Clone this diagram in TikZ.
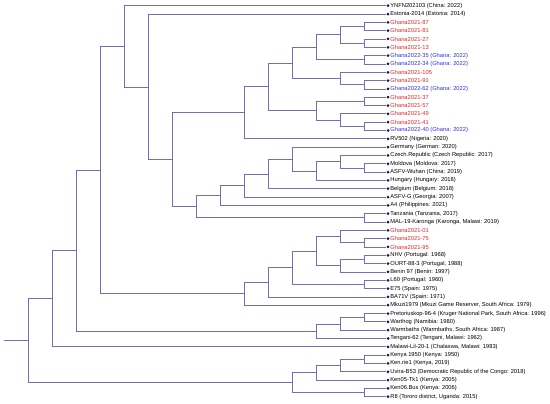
\documentclass[tikz,border=0pt]{standalone}
\usepackage{fontspec}
\setmainfont{Liberation Sans}
\definecolor{branch}{RGB}{112,112,182}
\definecolor{tipdot}{RGB}{20,20,72}
\definecolor{ghred}{RGB}{232,36,36}
\definecolor{ghblue}{RGB}{48,48,232}
\tikzset{
  tip/.style={circle,fill=tipdot,inner sep=0pt,minimum size=3pt},
  tiplabel/.style={anchor=west,inner sep=0pt,font=\fontsize{5.75}{6}\selectfont,text=black},
  redlab/.style={tiplabel,text=ghred},
  bluelab/.style={tiplabel,text=ghblue},
  br/.style={draw=branch,line width=0.75pt}
}
\newcommand\leaf[4]{%
  \node[tip] (l#1) at (16,#1) {};
  \node[#3] (t#1) at ([xshift=2.2pt]l#1.center) {#2};
}
\begin{document}
\begin{tikzpicture}
\useasboundingbox (0pt,0pt) rectangle (550pt,-404pt);
\begin{scope}[x=24pt,y=-8.32pt,shift={(4pt,2.62pt)}]
\leaf{1}{YNFN202103 (China: 2022)}{tiplabel}{}
\leaf{2}{Estonia-2014 (Estonia: 2014)}{tiplabel}{}
\leaf{3}{Ghana2021-87}{redlab}{}
\leaf{4}{Ghana2021-81}{redlab}{}
\leaf{5}{Ghana2021-27}{redlab}{}
\leaf{6}{Ghana2021-13}{redlab}{}
\leaf{7}{Ghana2022-35 (Ghana: 2022)}{bluelab}{}
\leaf{8}{Ghana2022-34 (Ghana: 2022)}{bluelab}{}
\leaf{9}{Ghana2021-105}{redlab}{}
\leaf{10}{Ghana2021-91}{redlab}{}
\leaf{11}{Ghana2022-62 (Ghana: 2022)}{bluelab}{}
\leaf{12}{Ghana2021-37}{redlab}{}
\leaf{13}{Ghana2021-57}{redlab}{}
\leaf{14}{Ghana2021-49}{redlab}{}
\leaf{15}{Ghana2021-41}{redlab}{}
\leaf{16}{Ghana2022-40 (Ghana: 2022)}{bluelab}{}
\leaf{17}{RV502 (Nigeria: 2020)}{tiplabel}{}
\leaf{18}{Germany (German: 2020)}{tiplabel}{}
\leaf{19}{Czech.Republic (Czech Republic: 2017)}{tiplabel}{}
\leaf{20}{Moldova (Moldova: 2017)}{tiplabel}{}
\leaf{21}{ASFV-Wuhan (China: 2019)}{tiplabel}{}
\leaf{22}{Hungary (Hungary: 2018)}{tiplabel}{}
\leaf{23}{Belgium (Belgium: 2018)}{tiplabel}{}
\leaf{24}{ASFV-G (Georgia: 2007)}{tiplabel}{}
\leaf{25}{A4 (Philippines: 2021)}{tiplabel}{}
\leaf{26}{Tanzania (Tanzania, 2017)}{tiplabel}{}
\leaf{27}{MAL-19-Karonga (Karonga, Malawi: 2019)}{tiplabel}{}
\leaf{28}{Ghana2021-01}{redlab}{}
\leaf{29}{Ghana2021-75}{redlab}{}
\leaf{30}{Ghana2021-95}{redlab}{}
\leaf{31}{NHV (Portugal: 1968)}{tiplabel}{}
\leaf{32}{OURT-88-3 (Portugal, 1988)}{tiplabel}{}
\leaf{33}{Benin 97 (Benin: 1997)}{tiplabel}{}
\leaf{34}{L60 (Portugal: 1960)}{tiplabel}{}
\leaf{35}{E75 (Spain: 1975)}{tiplabel}{}
\leaf{36}{BA71V (Spain: 1971)}{tiplabel}{}
\leaf{37}{Mkuzi1979 (Mkuzi Game Reserver, South Africa: 1979)}{tiplabel}{}
\leaf{38}{Pretoriuskop-96-4 (Kruger National Park, South Africa: 1996)}{tiplabel}{}
\leaf{39}{Warthog (Namibia: 1980)}{tiplabel}{}
\leaf{40}{Warmbaths (Warmbaths, South Africa: 1987)}{tiplabel}{}
\leaf{41}{Tengani-62 (Tengani, Malawi: 1962)}{tiplabel}{}
\leaf{42}{Malawi-Lil-20-1 (Chalaswa, Malawi: 1983)}{tiplabel}{}
\leaf{43}{Kenya 1950 (Kenya: 1950)}{tiplabel}{}
\leaf{44}{Ken.rie1 (Kenya, 2019)}{tiplabel}{}
\leaf{45}{Uvira-B53 (Democratic Republic of the Congo: 2018)}{tiplabel}{}
\leaf{46}{Ken05-Tk1 (Kenya: 2005)}{tiplabel}{}
\leaf{47}{Ken06.Bus (Kenya: 2006)}{tiplabel}{}
\leaf{48}{R8 (Tororo district, Uganda: 2015)}{tiplabel}{}
% internal nodes
\coordinate (a1) at (15,3.5);
\coordinate (a2) at (15,5.5);
\coordinate (a3) at (14,4.5);
\coordinate (a4) at (15,7.5);
\coordinate (a5) at (13,6);
\coordinate (a6) at (15,10.5);
\coordinate (a7) at (14,9.75);
\coordinate (a8) at (12,7.875);
\coordinate (a9) at (15,12.5);
\coordinate (a10) at (15,15.5);
\coordinate (a11) at (14,14.75);
\coordinate (a12) at (13,13.625);
\coordinate (a13) at (11,10.75);
\coordinate (a14) at (10,13.875);
\coordinate (b1) at (15,20.5);
\coordinate (b2) at (14,19.75);
\coordinate (b3) at (13,20.875);
\coordinate (b4) at (12,19.4375);
\coordinate (b5) at (11,21.21875);
\coordinate (b6) at (10,22.609375);
\coordinate (b7) at (9,23.8046875);
\coordinate (b8) at (15,26.5);
\coordinate (b9) at (8,25.15234375);
\coordinate (c1) at (7,19.513671875);
\coordinate (c2) at (6,10.7568359375);
\coordinate (c3) at (5,5.87841796875);
\coordinate (d1) at (15,29.5);
\coordinate (d2) at (14,28.75);
\coordinate (d3) at (15,31.5);
\coordinate (d4) at (14,32.25);
\coordinate (d5) at (13,30.5);
\coordinate (d6) at (15,34.5);
\coordinate (d7) at (12,32.5);
\coordinate (d8) at (11,34.25);
\coordinate (d9) at (10,35.625);
\coordinate (e1) at (4,20.7517);
\coordinate (f1) at (15,38.5);
\coordinate (f2) at (14,39.25);
\coordinate (f3) at (13,40.125);
\coordinate (e2) at (3,30.4383);
\coordinate (e3) at (2,36.2192);
\coordinate (k1) at (15,43.5);
\coordinate (k2) at (14,44.25);
\coordinate (k3) at (13,45.125);
\coordinate (k4) at (15,47.5);
\coordinate (k5) at (12,46.3125);
\coordinate (root) at (1,41.2658);
\coordinate (stub) at (0,41.2658);
% branches
\begin{scope}[br]
\draw (stub) -- (root);
\draw (root) |- (e3); \draw (root) |- (k5);
\draw (e3) |- (e2); \draw (e3) |- (l42);
\draw (e2) |- (e1); \draw (e2) |- (f3);
\draw (e1) |- (c3); \draw (e1) |- (d9);
\draw (c3) |- (l1); \draw (c3) |- (c2);
\draw (c2) |- (l2); \draw (c2) |- (c1);
\draw (c1) |- (a14); \draw (c1) |- (b9);
\draw (a14) |- (a13); \draw (a14) |- (l17);
\draw (a13) |- (a8); \draw (a13) |- (a12);
\draw (a8) |- (a5); \draw (a8) |- (a7);
\draw (a5) |- (a3); \draw (a5) |- (a4);
\draw (a3) |- (a1); \draw (a3) |- (a2);
\draw (a1) |- (l3); \draw (a1) |- (l4);
\draw (a2) |- (l5); \draw (a2) |- (l6);
\draw (a4) |- (l7); \draw (a4) |- (l8);
\draw (a7) |- (l9); \draw (a7) |- (a6);
\draw (a6) |- (l10); \draw (a6) |- (l11);
\draw (a12) |- (a9); \draw (a12) |- (a11);
\draw (a9) |- (l12); \draw (a9) |- (l13);
\draw (a11) |- (l14); \draw (a11) |- (a10);
\draw (a10) |- (l15); \draw (a10) |- (l16);
\draw (b9) |- (b7); \draw (b9) |- (b8);
\draw (b8) |- (l26); \draw (b8) |- (l27);
\draw (b7) |- (b6); \draw (b7) |- (l25);
\draw (b6) |- (b5); \draw (b6) |- (l24);
\draw (b5) |- (b4); \draw (b5) |- (l23);
\draw (b4) |- (l18); \draw (b4) |- (b3);
\draw (b3) |- (b2); \draw (b3) |- (l22);
\draw (b2) |- (l19); \draw (b2) |- (b1);
\draw (b1) |- (l20); \draw (b1) |- (l21);
\draw (d9) |- (d8); \draw (d9) |- (l37);
\draw (d8) |- (d7); \draw (d8) |- (l36);
\draw (d7) |- (d5); \draw (d7) |- (d6);
\draw (d6) |- (l34); \draw (d6) |- (l35);
\draw (d5) |- (d2); \draw (d5) |- (d4);
\draw (d2) |- (l28); \draw (d2) |- (d1);
\draw (d1) |- (l29); \draw (d1) |- (l30);
\draw (d4) |- (d3); \draw (d4) |- (l33);
\draw (d3) |- (l31); \draw (d3) |- (l32);
\draw (f3) |- (f2); \draw (f3) |- (l41);
\draw (f2) |- (f1); \draw (f2) |- (l40);
\draw (f1) |- (l38); \draw (f1) |- (l39);
\draw (k5) |- (k3); \draw (k5) |- (k4);
\draw (k3) |- (k2); \draw (k3) |- (l46);
\draw (k2) |- (k1); \draw (k2) |- (l45);
\draw (k1) |- (l43); \draw (k1) |- (l44);
\draw (k4) |- (l47); \draw (k4) |- (l48);
\end{scope}
\end{scope}
\end{tikzpicture}
\end{document}
